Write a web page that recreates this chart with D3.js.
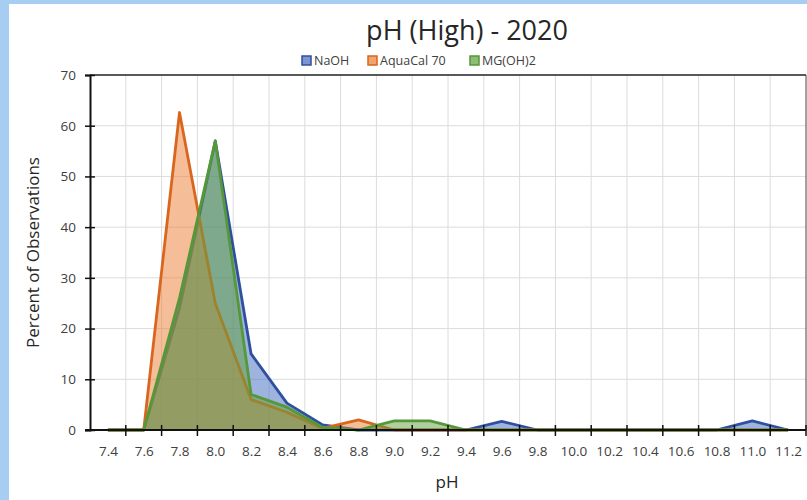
<!DOCTYPE html>
<html><head><meta charset="utf-8">
<script src="https://cdn.jsdelivr.net/npm/d3@7"></script>
<style>body{margin:0;padding:0;background:#fff}svg{display:block}</style>
</head><body><div id="chart"></div>
<script>
const categories = ["7.4","7.6","7.8","8.0","8.2","8.4","8.6","8.8","9.0","9.2","9.4","9.6","9.8","10.0","10.2","10.4","10.6","10.8","11.0","11.2"];
const naoh      = [0,0,24,57,15,5.3,1,0,0,0,0,1.7,0,0,0,0,0,0,1.8,0];
const aquacal   = [0,0,62.6,25,6,3.5,0.3,2,0,0,0,0,0,0,0,0,0,0,0,0];
const mgoh2     = [0,0,26,57,7,4.5,0.5,0,1.8,1.8,0,0,0,0,0,0,0,0,0,0];
const seriesNames = ["NaOH","AquaCal 70","MG(OH)2"];
const yTicks = [0,10,20,30,40,50,60,70];

const W = 807, H = 500;
const svg = d3.select("#chart").append("svg").attr("width", W).attr("height", H);
const font = "'Open Sans', 'Noto Sans', sans-serif";

// frame background
svg.append("rect").attr("width", W).attr("height", H).attr("fill", "#a8cdf2");
svg.append("rect").attr("x", 9).attr("y", 4).attr("width", W - 9).attr("height", H - 4).attr("fill", "#fff");

const pL = 90, pR = 806, pT = 75, pB = 430;
const xBand = d3.scaleBand().domain(categories).range([pL, pR]);
const xPt = d3.scalePoint().domain(categories).range([pL, pR]).padding(0.5);
const y = d3.scaleLinear().domain([0, 70]).range([pB, pT]);

// gridlines
const g = svg.append("g");
yTicks.filter(v => v > 0 && v < 70).forEach(v => {
  g.append("line").attr("x1", pL).attr("x2", pR).attr("y1", y(v)).attr("y2", y(v))
    .attr("stroke", "#dcdcdc").attr("stroke-width", 1);
});
const bounds = categories.map(c => xBand(c)).concat([pR]);
bounds.slice(1, -1).forEach(b => {
  g.append("line").attr("x1", b).attr("x2", b).attr("y1", pT).attr("y2", pB)
    .attr("stroke", "#dcdcdc").attr("stroke-width", 1);
});

// areas
const colors = [
  {fill: "#4068c0", stroke: "#2f4f9f"},
  {fill: "#ed7d31", stroke: "#d9661f"},
  {fill: "#5f9f3c", stroke: "#54983a"}
];
const data = [naoh, aquacal, mgoh2];
const area = d3.area().x((d, i) => xPt(categories[i])).y0(y(0)).y1(d => y(d));
const line = d3.line().x((d, i) => xPt(categories[i])).y(d => y(d));
data.forEach((s, k) => {
  svg.append("path").attr("d", area(s)).attr("fill", colors[k].fill).attr("fill-opacity", 0.5);
  svg.append("path").attr("d", line(s)).attr("fill", "none").attr("stroke", colors[k].stroke)
    .attr("stroke-width", 2.8).attr("stroke-linejoin", "round");
});

// plot border / axes
const ax = svg.append("g");
ax.append("line").attr("x1", pL).attr("x2", pR).attr("y1", pT).attr("y2", pT).attr("stroke", "#222").attr("stroke-width", 1.5);
ax.append("line").attr("x1", pR).attr("x2", pR).attr("y1", pT).attr("y2", pB).attr("stroke", "#444").attr("stroke-width", 1);

const yAxis = svg.append("g").attr("transform", `translate(${pL},0)`)
  .call(d3.axisLeft(y).tickValues(yTicks).tickSize(5).tickPadding(9));
yAxis.select(".domain").attr("stroke", "#111").attr("stroke-width", 2);
yAxis.selectAll(".tick line").attr("x2", 5).attr("x1", -5).attr("stroke", "#111").attr("stroke-width", 1.5);
yAxis.selectAll(".tick text").attr("font-family", font).attr("font-size", 13.5).attr("fill", "#404040");

const xAxis = svg.append("g").attr("transform", `translate(0,${pB})`)
  .call(d3.axisBottom(xPt).tickSize(0).tickPadding(16));
xAxis.select(".domain").remove();
xAxis.selectAll(".tick text").attr("font-family", font).attr("font-size", 13.5).attr("fill", "#404040");
svg.append("line").attr("x1", pL - 5).attr("x2", pR).attr("y1", pB).attr("y2", pB)
  .attr("stroke", "#111").attr("stroke-width", 2);
bounds.slice(1).forEach(b => {
  svg.append("line").attr("x1", b).attr("x2", b).attr("y1", pB - 5).attr("y2", pB + 6)
    .attr("stroke", "#111").attr("stroke-width", 1.5);
});

// titles
svg.append("text").attr("x", 467).attr("y", 40).attr("text-anchor", "middle")
  .attr("font-family", font).attr("font-size", 27).attr("fill", "#262626").text("pH (High) - 2020");
svg.append("text").attr("x", 447).attr("y", 488).attr("text-anchor", "middle")
  .attr("font-family", font).attr("font-size", 17).attr("fill", "#262626").text("pH");
svg.append("text").attr("transform", `translate(39,${(pT + pB) / 2}) rotate(-90)`).attr("text-anchor", "middle")
  .attr("font-family", font).attr("font-size", 17).attr("fill", "#262626").text("Percent of Observations");

// legend
const legX = [302, 368, 470];
seriesNames.forEach((n, k) => {
  svg.append("rect").attr("x", legX[k]).attr("y", 56).attr("width", 9).attr("height", 9)
    .attr("fill", colors[k].fill).attr("fill-opacity", 0.7).attr("stroke", colors[k].stroke).attr("stroke-width", 1.5);
  svg.append("text").attr("x", legX[k] + 12).attr("y", 65).attr("font-family", font).attr("font-size", 12.5)
    .attr("fill", "#404040").text(n);
});
</script></body></html>
